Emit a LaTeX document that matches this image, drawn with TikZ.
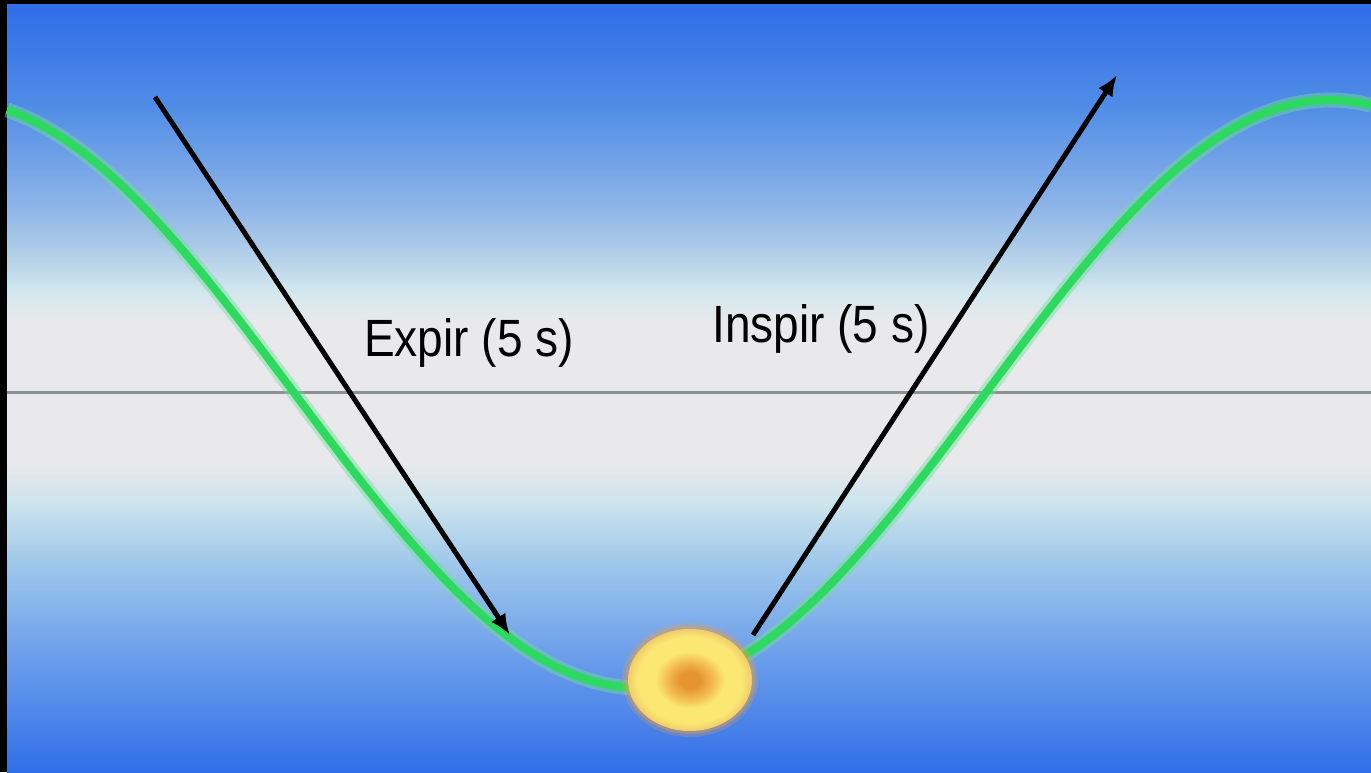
\documentclass[tikz,border=0pt]{standalone}
\usepackage{fontspec}
\setmainfont{Liberation Sans}
\usetikzlibrary{arrows.meta,shapes.geometric}

\definecolor{skyblue}{RGB}{50,110,232}
\definecolor{skymid}{RGB}{80,140,230}
\definecolor{skylight}{RGB}{140,180,232}
\definecolor{skypale}{RGB}{178,206,232}
\definecolor{skycyan}{RGB}{212,232,238}
\definecolor{skygray}{RGB}{233,233,236}
\definecolor{skylow}{RGB}{205,228,236}
\definecolor{skylow2}{RGB}{160,200,235}
\definecolor{skylow3}{RGB}{110,160,235}
\definecolor{axisgray}{RGB}{140,145,150}
\definecolor{wavegreen}{RGB}{45,218,95}
\definecolor{waveglow}{RGB}{110,225,150}
\definecolor{ballcore}{RGB}{230,148,48}
\definecolor{ballmid}{RGB}{242,185,80}
\definecolor{ballyellow}{RGB}{250,232,115}
\definecolor{ballrim}{RGB}{242,205,105}
\definecolor{ballhalo}{RGB}{235,160,70}

\pgfdeclareverticalshading{sky}{100bp}{%
  color(0bp)=(skyblue); color(25bp)=(skyblue);
  color(32.9bp)=(skylow3); color(38.7bp)=(skylow2);
  color(42.6bp)=(skylow); color(45.2bp)=(skygray);
  color(54.3bp)=(skygray); color(56.2bp)=(skycyan);
  color(58.8bp)=(skypale); color(62bp)=(skylight);
  color(68.5bp)=(skymid); color(74.7bp)=(skyblue);
  color(100bp)=(skyblue)}
\pgfdeclareradialshading{ballglow}{\pgfpoint{0bp}{0bp}}{%
  color(0bp)=(ballcore); color(4bp)=(ballcore);
  color(9bp)=(ballmid); color(14bp)=(ballyellow);
  color(21bp)=(ballyellow); color(25bp)=(ballrim);
  color(50bp)=(ballrim)}

\begin{document}
\begin{tikzpicture}[x=1pt,y=1pt,
    breath/.style={line width=5pt,-{Latex[length=21pt,width=17pt]}},
    phase/.style={font=\fontsize{46}{50}\selectfont,anchor=base,
      inner sep=0pt,yscale=1.14,transform shape}]
  \useasboundingbox (0,0) rectangle (1371,772);
  \fill[black] (0,0) rectangle (1371,772);
  \shade[shading=sky] (7,0) rectangle (1371,767);
  % zero line
  \draw[axisgray,line width=3pt] (7,379) -- (1371,379);
  % breathing wave
  \draw[waveglow,opacity=.45,line width=15pt]
    plot[domain=7:1371,samples=120] (\x,{378-294*cos((\x-640)*0.26087)});
  \draw[wavegreen,line width=8pt]
    plot[domain=7:1371,samples=120] (\x,{378-294*cos((\x-640)*0.26087)});
  % ball
  \fill[ballhalo,opacity=.25] (690,92) ellipse [x radius=68,y radius=57];
  \fill[ballhalo,opacity=.35] (690,92) ellipse [x radius=65,y radius=54];
  \node[ellipse,minimum width=124pt,minimum height=102pt,inner sep=0pt,
    shading=ballglow] (ball) at (690,92) {};
  % arrows
  \coordinate (exStart) at (155,675);
  \coordinate (exEnd)   at (510,137);
  \coordinate (inStart) at (753,137);
  \coordinate (inEnd)   at (1117,697);
  \draw[breath] (exStart) -- (exEnd);
  \draw[breath] (inStart) -- (inEnd);
  \node[phase] (expir) at (469,415) {Expir (5 s)};
  \node[phase] (inspir) at (821,429) {Inspir (5 s)};
\end{tikzpicture}
\end{document}
